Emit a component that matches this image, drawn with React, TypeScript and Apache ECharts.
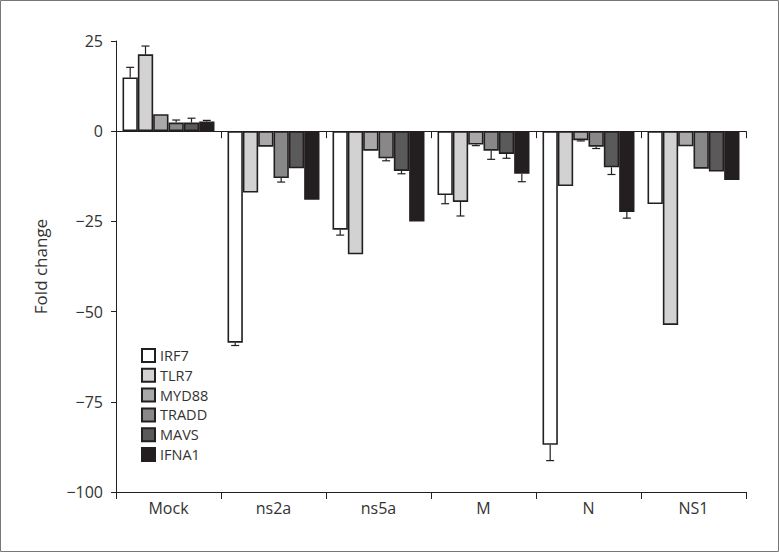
import React, { useEffect, useRef } from "react";
import * as echarts from "echarts";

const categories = ["Mock", "ns2a", "ns5a", "M", "N", "NS1"];
const genes = ["IRF7", "TLR7", "MYD88", "TRADD", "MAVS", "IFNA1"];
const colors = ["#ffffff", "#d2d2d2", "#a9a9a9", "#888888", "#5a5a5a", "#231f20"];

// values per gene, across categories
const IRF7 = [14.9, -58.6, -27.3, -17.7, -86.9, -20.2];
const TLR7 = [21.3, -17.0, -34.1, -19.6, -15.2, -53.7];
const MYD88 = [4.7, -4.3, -5.4, -3.7, -2.5, -4.2];
const TRADD = [2.4, -13.0, -7.5, -5.4, -4.3, -10.4];
const MAVS = [2.4, -10.3, -11.0, -6.3, -10.0, -11.2];
const IFNA1 = [2.7, -19.0, -25.0, -11.8, -22.4, -13.5];

// error magnitudes (drawn away from zero)
const IRF7_err = [2.8, 0.8, 1.5, 2.4, 4.4, 0];
const TLR7_err = [2.3, 0, 0, 3.9, 0, 0];
const MYD88_err = [0, 0, 0, 0.3, 0.2, 0];
const TRADD_err = [0.7, 1.1, 0.7, 2.4, 0.5, 0];
const MAVS_err = [1.2, 0, 0.8, 1.2, 2.0, 0];
const IFNA1_err = [0.3, 0, 0, 2.2, 1.7, 0];

const yTicks = [-100, -75, -50, -25, 0, 25];

const values = [IRF7, TLR7, MYD88, TRADD, MAVS, IFNA1];
const errors = [IRF7_err, TLR7_err, MYD88_err, TRADD_err, MAVS_err, IFNA1_err];

const GAP = 0.124;
const FONT = "'Open Sans', 'Noto Sans', sans-serif";
const TXT = "#333333";

export default function App() {
  const ref = useRef<HTMLDivElement>(null);
  useEffect(() => {
    if (!ref.current) return;
    const chart = echarts.init(ref.current, null, { renderer: "svg" });
    const n = genes.length;
    const barSeries = genes.map((g, i) => ({
      name: g,
      type: "bar",
      xAxisIndex: 0,
      data: values[i],
      barGap: "0%",
      barCategoryGap: GAP * 100 + "%",
      itemStyle: { color: colors[i], borderColor: "#231f20", borderWidth: 1.6 },
      z: 3,
    }));
    const errSeries = genes.map((g, i) => ({
      type: "custom",
      xAxisIndex: 0,
      z: 4,
      silent: true,
      data: values[i].map((v, c) => [c, v, errors[i][c]]),
      renderItem: (params: any, api: any) => {
        const c = api.value(0);
        const v = api.value(1);
        const e = api.value(2);
        if (!e) return { type: "group", children: [] };
        const band = api.size([1, 0])[0];
        const bw = (band * (1 - GAP)) / n;
        const center = api.coord([c, 0])[0];
        const x = center + (i - (n - 1) / 2) * bw;
        const y0 = api.coord([c, v])[1];
        const y1 = api.coord([c, v + (v >= 0 ? e : -e)])[1];
        const cap = 4;
        const st = { stroke: "#231f20", lineWidth: 1.2 };
        return {
          type: "group",
          children: [
            { type: "line", shape: { x1: x, y1: y0, x2: x, y2: y1 }, style: st },
            { type: "line", shape: { x1: x - cap, y1: y1, x2: x + cap, y2: y1 }, style: st },
          ],
        };
      },
    }));
    chart.setOption({
      animation: false,
      backgroundColor: "#ffffff",
      textStyle: { fontFamily: FONT },
      graphic: [
        {
          type: "rect",
          shape: { x: 0.5, y: 0.5, width: 778, height: 551 },
          style: { fill: "none", stroke: "#777777", lineWidth: 1 },
          silent: true,
        },
      ],
      grid: { left: 116, right: 33, top: 41, bottom: 60, containLabel: false },
      legend: {
        orient: "vertical",
        left: 141,
        top: 348,
        padding: 0,
        itemWidth: 13,
        itemHeight: 13,
        itemGap: 4.8,
        icon: "rect",
        data: genes,
        textStyle: { fontSize: 14.5, color: TXT, fontFamily: FONT, lineHeight: 14 },
      },
      xAxis: [
        {
          type: "category",
          data: categories,
          position: "bottom",
          axisLine: { onZero: false, lineStyle: { color: "#231f20", width: 1 } },
          axisTick: { show: true, length: 7, lineStyle: { color: "#231f20" } },
          axisLabel: { color: TXT, fontSize: 16, margin: 8, fontFamily: FONT },
        },
        {
          type: "category",
          data: categories,
          position: "top",
          axisLine: { onZero: true, lineStyle: { color: "#231f20", width: 1 } },
          axisTick: { show: true, inside: true, length: 7, lineStyle: { color: "#231f20" } },
          axisLabel: { show: false },
        },
      ],
      yAxis: {
        type: "value",
        min: yTicks[0],
        max: yTicks[yTicks.length - 1],
        interval: 25,
        name: "Fold change",
        nameLocation: "middle",
        nameGap: 67,
        nameTextStyle: { fontSize: 17, color: TXT, fontFamily: FONT },
        axisLine: { show: true, lineStyle: { color: "#231f20", width: 1 } },
        axisTick: { show: true, length: 5, lineStyle: { color: "#231f20" } },
        axisLabel: {
          color: TXT,
          fontSize: 16,
          margin: 13,
          fontFamily: FONT,
          formatter: (v: number) => (v < 0 ? "\u2212" + Math.abs(v) : String(v)),
        },
        splitLine: { show: false },
      },
      series: [...barSeries, ...errSeries],
    });
    return () => chart.dispose();
  }, []);
  return (
    <div
      ref={ref}
      style={{ position: "fixed", left: 0, top: 0, width: 779, height: 552 }}
    />
  );
}
